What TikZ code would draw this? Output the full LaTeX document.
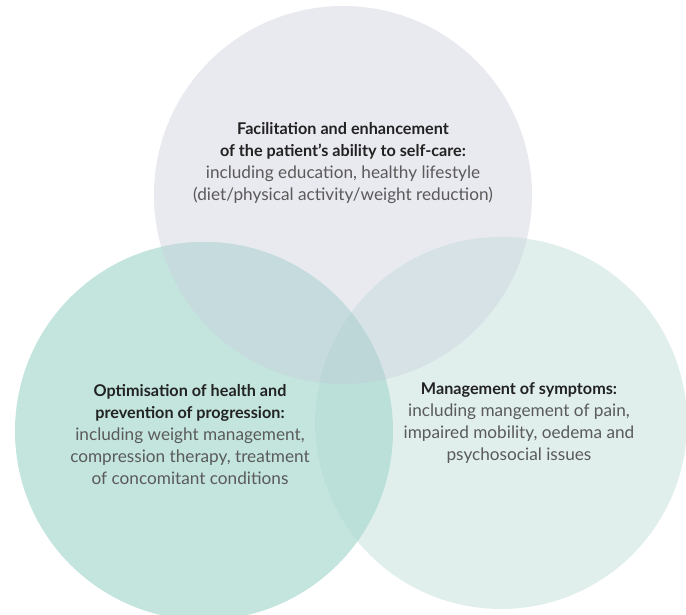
\documentclass[tikz,border=0pt]{standalone}
\usepackage{fontspec}
\setmainfont{Lato}
\usepackage{tikz}
\usetikzlibrary{positioning}
\definecolor{selfcare}{HTML}{E9E9F0}
\definecolor{health}{HTML}{C3E5DE}
\definecolor{symptom}{HTML}{E0EFEC}
\definecolor{selfhealth}{HTML}{C6DBDD}
\definecolor{selfsymptom}{HTML}{D6E2E6}
\definecolor{healthsymptom}{HTML}{BBE0DA}
\definecolor{allthree}{HTML}{BDD6D7}
\definecolor{headtext}{HTML}{222222}
\definecolor{bodytext}{HTML}{5A5A5A}
\newcommand{\headline}[1]{\textcolor{headtext}{\fontsize{16.2}{22}\selectfont\bfseries #1}}

\begin{document}
\begin{tikzpicture}[
    x=1pt, y=-1pt,
    circletext/.style={align=center, font=\fontsize{17.2}{22}\selectfont, text=bodytext}
]
    \useasboundingbox (0,0) rectangle (686,615);

    % Circle centres
    \coordinate (top) at (343,195);
    \coordinate (left) at (204,431);
    \coordinate (right) at (501,423);

    % Circles
    \fill[selfcare] (top) circle (189);
    \fill[health] (left) circle (189);
    \fill[symptom] (right) circle (186);

    % Overlaps
    \begin{scope}
        \clip (top) circle (189);
        \fill[selfhealth] (left) circle (189);
        \fill[selfsymptom] (right) circle (186);
    \end{scope}
    \begin{scope}
        \clip (left) circle (189);
        \fill[healthsymptom] (right) circle (186);
        \clip (right) circle (186);
        \fill[allthree] (top) circle (189);
    \end{scope}

    % Texts
    \node[circletext] (selfcaretext) at (343,163) {\headline{Facilitation and enhancement}\\
        \headline{of the patient’s ability to self-care:}\\
        including education, healthy lifestyle\\
        (diet/physical activity/weight reduction)};
    \node[circletext] (healthtext) at (190,435) {\headline{Optimisation of health and}\\
        \headline{prevention of progression:}\\
        including weight management,\\
        compression therapy, treatment\\
        of concomitant conditions};
    \node[circletext] (symptomtext) at (519,423) {\headline{Management of symptoms:}\\
        including mangement of pain,\\
        impaired mobility, oedema and\\
        psychosocial issues};

\end{tikzpicture}
\end{document}
